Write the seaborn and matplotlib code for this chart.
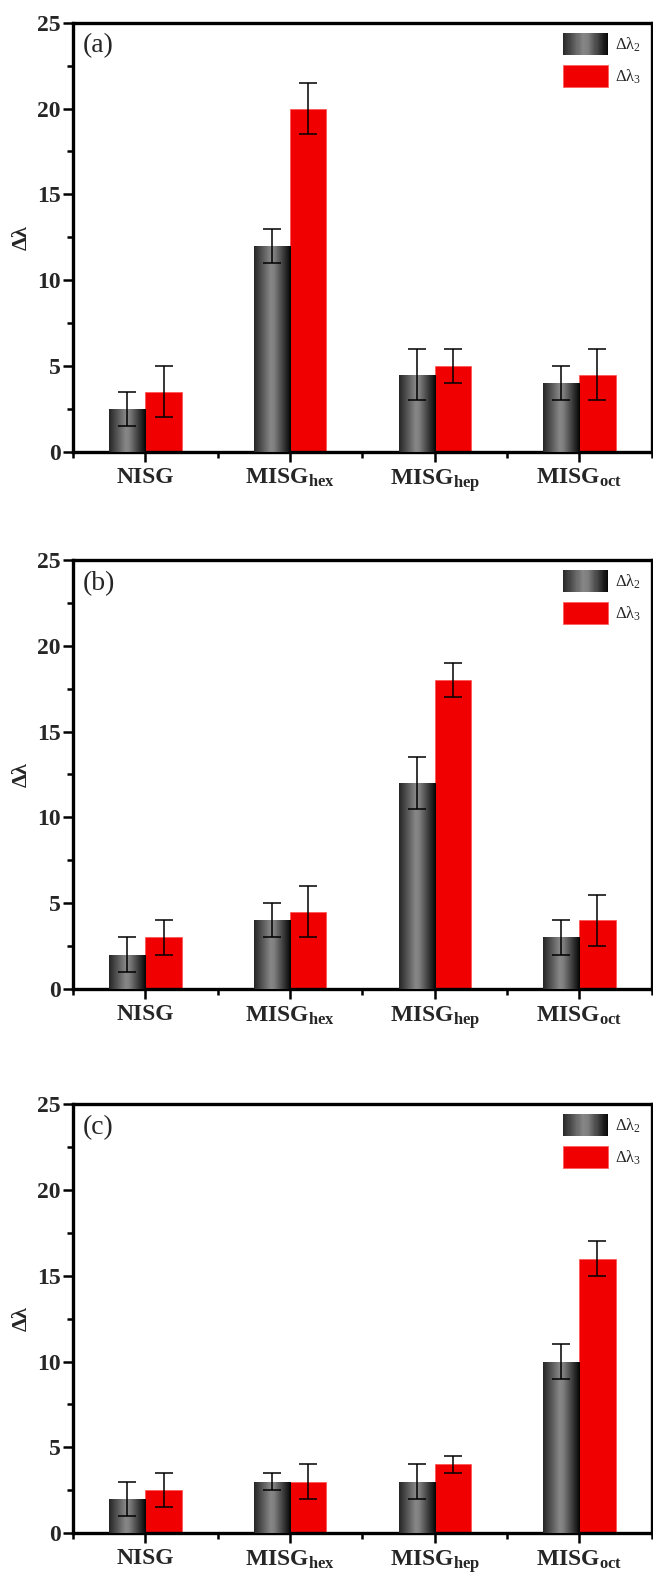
import numpy as np
import pandas as pd
import matplotlib
matplotlib.use("Agg")
import matplotlib.pyplot as plt
from matplotlib.patches import Rectangle
from matplotlib.legend_handler import HandlerBase
from matplotlib.ticker import MultipleLocator
import seaborn as sns

# ── Duomenys ────────────────────────────────────────────────────────────────
categories = ["NISG", "MISG$_{\\mathbf{hex}}$", "MISG$_{\\mathbf{hep}}$", "MISG$_{\\mathbf{oct}}$"]
series = ["d2", "d3"]
series_labels = ["Δλ$_2$", "Δλ$_3$"]
panel_labels = ["(a)", "(b)", "(c)"]

d2_vals = [[2.5, 12, 4.5, 4], [2, 4, 12, 3], [2, 3, 3, 10]]
d2_err = [[1, 1, 1.5, 1], [1, 1, 1.5, 1], [1, 0.5, 1, 1]]
d3_vals = [[3.5, 20, 5, 4.5], [3, 4.5, 18, 4], [2.5, 3, 4, 16]]
d3_err = [[1.5, 1.5, 1, 1.5], [1, 1.5, 1, 1.5], [1, 1, 0.5, 1]]

yticks = [0, 5, 10, 15, 20, 25]

# ── Stilius ──────────────────────────────────────────────────────────────────
sns.set_style("ticks")
plt.rcParams["font.family"] = ["Liberation Serif", "DejaVu Serif"]
plt.rcParams["mathtext.fontset"] = "custom"
plt.rcParams["mathtext.rm"] = "Liberation Serif"
plt.rcParams["mathtext.it"] = "Liberation Serif"
plt.rcParams["mathtext.bf"] = "Liberation Serif:bold"

RED = "#f00000"


def gray_at(t):
    # cilindrinis pilkas gradientas: tamsu kraštuose, šviesu per vidurį
    v = np.interp(t, [0, 0.45, 0.55, 1], [0.15, 0.53, 0.5, 0.02])
    return (v, v, v)


class GradientHandler(HandlerBase):
    def create_artists(self, legend, orig_handle, xd, yd, w, h, fontsize, trans):
        n = 40
        arts = []
        for i in range(n):
            arts.append(Rectangle((-xd + w * i / n, -yd), w / n * 1.05, h,
                                  facecolor=gray_at((i + 0.5) / n),
                                  edgecolor="none", transform=trans))
        return arts


fig = plt.figure(figsize=(6.53, 15.74), dpi=100)
bottoms = [0.713, 0.3717, 0.026]

for k in range(3):
    ax = fig.add_axes([0.112, bottoms[k], 0.886, 0.2725])
    df = pd.DataFrame({
        "cat": categories * 2,
        "series": [series[0]] * 4 + [series[1]] * 4,
        "val": d2_vals[k] + d3_vals[k],
    })
    sns.barplot(data=df, x="cat", y="val", hue="series", order=categories,
                hue_order=series, palette=[(0.3, 0.3, 0.3), RED],
                width=0.5, gap=0, errorbar=None, saturation=1,
                edgecolor="#ff5050", linewidth=0.5, legend=False, ax=ax)

    bar_groups = list(ax.containers)
    errs = [d2_err[k], d3_err[k]]
    for si, cont in enumerate(bar_groups):
        xs = [p.get_x() + p.get_width() / 2 for p in cont.patches]
        hs = [p.get_height() for p in cont.patches]
        ax.errorbar(xs, hs, yerr=errs[si], fmt="none", ecolor="black",
                    elinewidth=1.1, capsize=6.5, capthick=1.1, zorder=5)

    # gradientas pilkiems stulpeliams
    grad = np.array([[gray_at(t) for t in np.linspace(0, 1, 64)]])
    for p in bar_groups[0].patches:
        p.set_edgecolor("none")
        x0 = p.get_x()
        im = ax.imshow(grad, extent=(x0, x0 + p.get_width(), 0, p.get_height()),
                       aspect="auto", interpolation="bilinear", zorder=3)
        im.set_clip_path(p)

    ax.set_xlim(-0.5, 3.5)
    ax.set_ylim(0, 25)
    ax.set_yticks(yticks)
    ax.yaxis.set_minor_locator(MultipleLocator(2.5))
    ax.xaxis.set_minor_locator(MultipleLocator(0.5))
    ax.tick_params(axis="both", which="major", direction="out", length=7,
                   width=1.8, color="black")
    ax.tick_params(axis="both", which="minor", direction="out", length=4,
                   width=1.8, color="black")
    ax.tick_params(axis="y", labelsize=17, pad=2)
    ax.tick_params(axis="x", labelsize=17, pad=4)
    for lab in ax.get_yticklabels() + ax.get_xticklabels():
        lab.set_fontweight("bold")
    for s in ax.spines.values():
        s.set_visible(True)
        s.set_linewidth(2.4)
        s.set_color("black")

    ax.set_xlabel("")
    ax.set_ylabel("Δλ", fontsize=16, fontweight="bold")
    ax.yaxis.set_label_coords(-0.072, 0.5)
    ax.text(0.016, 0.975, panel_labels[k], transform=ax.transAxes,
            fontsize=20, va="top", ha="left")

    handles = [Rectangle((0, 0), 1, 1), Rectangle((0, 0), 1, 1, facecolor=RED,
                                                  edgecolor="#ff6060", linewidth=0.6)]
    ax.legend(handles, series_labels, loc="upper right", frameon=False,
              bbox_to_anchor=(0.999, 1.0),
              fontsize=12, handlelength=2.7, handleheight=1.65,
              handletextpad=0.42, labelspacing=0.6, borderpad=0.2,
              borderaxespad=0.4,
              handler_map={handles[0]: GradientHandler()})

fig.savefig("out.png", dpi=100)
